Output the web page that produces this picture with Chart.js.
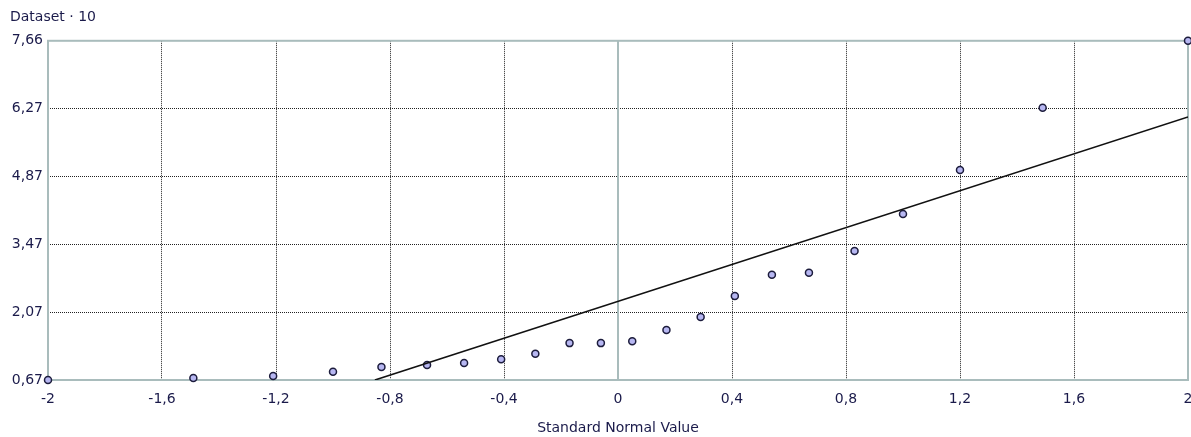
<!DOCTYPE html>
<html>
<head>
<meta charset="utf-8">
<script src="https://cdn.jsdelivr.net/npm/chart.js@4.4.1/dist/chart.umd.min.js"></script>
<style>
  html, body { margin: 0; padding: 0; background: #ffffff; }
  #wrap { width: 1191px; height: 437px; }
</style>
</head>
<body>
<div id="wrap"><canvas id="qqChart"></canvas></div>
<script>
// Normal probability plot data
const normalValues = [-2.0, -1.49, -1.21, -1.0, -0.83, -0.67, -0.54, -0.41, -0.29, -0.17, -0.06,
                      0.05, 0.17, 0.29, 0.41, 0.54, 0.67, 0.83, 1.0, 1.2, 1.49, 2.0];
const dataValues = [0.67, 0.71, 0.75, 0.84, 0.94, 0.98, 1.02, 1.10, 1.21, 1.43, 1.43,
                    1.47, 1.70, 1.97, 2.40, 2.84, 2.88, 3.33, 4.09, 5.00, 6.28, 7.66];
// reference line end points
const fitX = [-0.853, 2.0];
const fitY = [0.67, 6.09];

const xTickValues = [-2, -1.6, -1.2, -0.8, -0.4, 0, 0.4, 0.8, 1.2, 1.6, 2];
const xTickLabels = ['-2', '-1,6', '-1,2', '-0,8', '-0,4', '0', '0,4', '0,8', '1,2', '1,6', '2'];
const yTickValues = [0.67, 2.068, 3.466, 4.864, 6.262, 7.66];
const yTickLabels = ['0,67', '2,07', '3,47', '4,87', '6,27', '7,66'];

const textColor = '#1a1a4a';
const frameColor = '#a9bcbc';
const gridColor = '#222222';
const fontFamily = '"DejaVu Sans", Verdana, sans-serif';

// frame and zero line, drawn solid
const framePlugin = {
    id: 'frame',
    beforeDatasetsDraw(chart) {
        const { ctx, chartArea } = chart;
        const x0 = chart.scales.x.getPixelForValue(0);
        ctx.save();
        ctx.strokeStyle = frameColor;
        ctx.lineWidth = 2;
        ctx.beginPath();
        ctx.moveTo(x0, chartArea.top);
        ctx.lineTo(x0, chartArea.bottom);
        ctx.stroke();
        ctx.strokeRect(chartArea.left, chartArea.top, chartArea.right - chartArea.left, chartArea.bottom - chartArea.top);
        ctx.restore();
    }
};

const ctx = document.getElementById('qqChart');
new Chart(ctx, {
    type: 'scatter',
    data: {
        datasets: [{
            label: 'Fit',
            type: 'line',
            data: fitX.map((x, i) => ({ x: x, y: fitY[i] })),
            borderColor: '#111111',
            borderWidth: 1.6,
            pointRadius: 0,
            fill: false,
            clip: 0
        }, {
            label: 'Dataset 10',
            data: normalValues.map((x, i) => ({ x: x, y: dataValues[i] })),
            backgroundColor: '#b7b7f2',
            borderColor: '#1c1c3c',
            borderWidth: 1.5,
            pointRadius: 3.5,
            clip: false
        }]
    },
    options: {
        responsive: true,
        maintainAspectRatio: false,
        animation: false,
        layout: { autoPadding: false, padding: { left: 10, right: 3, top: 0, bottom: 0 } },
        plugins: {
            legend: { display: false },
            tooltip: { enabled: false },
            title: {
                display: true,
                text: 'Dataset · 10',
                align: 'start',
                color: textColor,
                font: { family: fontFamily, size: 14, weight: 'normal' },
                padding: { top: 9, bottom: 15 }
            }
        },
        scales: {
            x: {
                type: 'linear',
                min: -2,
                max: 2,
                afterBuildTicks: s => { s.ticks = xTickValues.map(v => ({ value: v })); },
                afterFit: s => { s.height = 57; s.paddingRight = 0; s.paddingLeft = 0; },
                ticks: {
                    color: textColor,
                    font: { family: fontFamily, size: 14 },
                    padding: 11,
                    maxRotation: 0,
                    autoSkip: false,
                    callback: (v, i) => xTickLabels[i]
                },
                grid: {
                    drawTicks: false,
                    color: c => (c.tick && (c.tick.value === 0 || c.tick.value === -2 || c.tick.value === 2)) ? 'rgba(0,0,0,0)' : gridColor,
                    lineWidth: 1
                },
                border: { display: false, dash: [1, 1] },
                title: {
                    display: true,
                    text: 'Standard Normal Value',
                    color: textColor,
                    font: { family: fontFamily, size: 14 },
                    padding: { top: 0, bottom: 0 }
                }
            },
            y: {
                type: 'linear',
                min: 0.67,
                max: 7.66,
                afterBuildTicks: s => { s.ticks = yTickValues.map(v => ({ value: v })); },
                afterFit: s => { s.width = 38; },
                ticks: {
                    color: textColor,
                    font: { family: fontFamily, size: 14 },
                    padding: 5,
                    autoSkip: false,
                    callback: (v, i) => yTickLabels[i]
                },
                grid: {
                    drawTicks: false,
                    color: c => (c.tick && (c.index === 0 || c.index === yTickValues.length - 1)) ? 'rgba(0,0,0,0)' : gridColor,
                    lineWidth: 1
                },
                border: { display: false, dash: [1, 1] }
            }
        }
    },
    plugins: [framePlugin]
});
</script>
</body>
</html>
